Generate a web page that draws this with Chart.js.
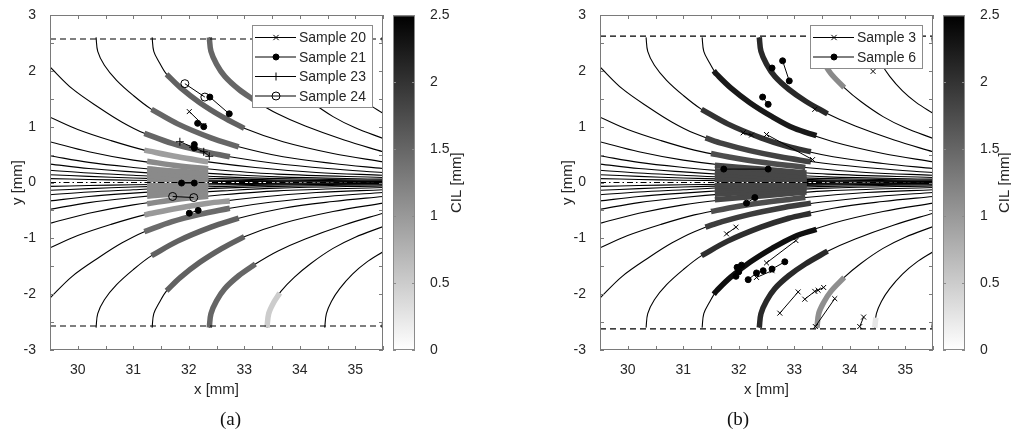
<!DOCTYPE html>
<html>
<head>
<meta charset="utf-8">
<script src="https://cdn.jsdelivr.net/npm/chart.js@4.4.0/dist/chart.umd.min.js"></script>
<style>
  body { margin: 0; background: #fff; width: 1011px; height: 435px; position: relative; overflow: hidden; }
  canvas { position: absolute; top: 0; }
  .cap { position: absolute; top: 408px; font-family: "Liberation Serif", "Times New Roman", serif; font-size: 19px; color: #111; }
</style>
</head>
<body>
<canvas id="panelA" width="390" height="435" style="left:0px"></canvas>
<canvas id="barA" width="80" height="435" style="left:390px"></canvas>
<canvas id="panelB" width="390" height="435" style="left:550px"></canvas>
<canvas id="barB" width="71" height="435" style="left:940px"></canvas>
<div class="cap" style="left:220px">(a)</div>
<div class="cap" style="left:727px">(b)</div>
<script>
// axes
var xLimits = [29.5, 35.5];
var yLimits = [-3, 3];
var xTickLabels = [30, 31, 32, 33, 34, 35];
var yTickLabels = [-3, -2, -1, 0, 1, 2, 3];
var cilLimits = [0, 2.5];

// die walls (y = +/- wall)
var wallA = 2.57;
var wallB = 2.62;

// flow lines, upper half [x, y] in mm
var linesUpper = [
  [[30.33, 2.60], [30.36, 2.35], [30.48, 2.10], [30.70, 1.83], [31.00, 1.56], [31.33, 1.31], [31.80, 1.05], [32.40, 0.80], [32.90, 0.64], [33.70, 0.46], [34.60, 0.34], [35.50, 0.25]],
  [[31.34, 2.60], [31.37, 2.35], [31.47, 2.15], [31.60, 1.94], [31.85, 1.70], [32.20, 1.43], [32.60, 1.18], [33.00, 0.97], [33.70, 0.73], [34.60, 0.52], [35.50, 0.37]],
  [[32.37, 2.60], [32.40, 2.35], [32.50, 2.12], [32.65, 1.90], [32.90, 1.67], [33.20, 1.46], [33.60, 1.23], [34.10, 1.01], [34.80, 0.76], [35.50, 0.55]],
  [[33.41, 2.60], [33.44, 2.35], [33.53, 2.15], [33.66, 1.95], [33.90, 1.70], [34.20, 1.45], [34.60, 1.18], [35.00, 0.98], [35.50, 0.79]],
  [[34.45, 2.60], [34.48, 2.35], [34.57, 2.13], [34.72, 1.90], [34.95, 1.64], [35.20, 1.43], [35.50, 1.24]],
  [[35.48, 2.60], [35.50, 2.42]],
  [[29.50, 2.07], [29.90, 1.68], [30.40, 1.33], [30.80, 1.08], [31.20, 0.88], [31.70, 0.70], [32.20, 0.57], [32.74, 0.46], [33.50, 0.35], [34.50, 0.25], [35.50, 0.18]],
  [[29.50, 1.17], [30.00, 0.95], [30.60, 0.75], [31.20, 0.58], [31.80, 0.46], [32.35, 0.37], [33.20, 0.27], [34.30, 0.18], [35.50, 0.13]],
  [[29.50, 0.73], [30.20, 0.55], [31.00, 0.40], [31.80, 0.30], [32.60, 0.22], [33.60, 0.15], [35.50, 0.09]],
  [[29.50, 0.48], [30.20, 0.36], [31.00, 0.27], [31.80, 0.20], [32.60, 0.15], [33.60, 0.10], [35.50, 0.06]],
  [[29.50, 0.33], [30.20, 0.25], [31.00, 0.19], [31.80, 0.14], [32.60, 0.10], [33.60, 0.07], [35.50, 0.04]],
  [[29.50, 0.22], [30.20, 0.17], [31.00, 0.13], [31.80, 0.09], [32.60, 0.07], [33.60, 0.045], [35.50, 0.025]],
  [[29.50, 0.14], [30.20, 0.11], [31.00, 0.08], [31.80, 0.06], [32.60, 0.04], [35.50, 0.015]],
  [[29.50, 0.07], [30.20, 0.055], [31.00, 0.04], [31.80, 0.03], [32.60, 0.02], [35.50, 0.007]]
];

// flow lines, lower half
var linesLower = [
  [[30.33, -2.60], [30.36, -2.35], [30.48, -2.10], [30.70, -1.83], [31.00, -1.56], [31.33, -1.31], [31.80, -1.05], [32.40, -0.80], [32.90, -0.64], [33.70, -0.46], [34.60, -0.34], [35.50, -0.25]],
  [[31.34, -2.60], [31.37, -2.35], [31.47, -2.15], [31.60, -1.94], [31.85, -1.70], [32.20, -1.43], [32.60, -1.18], [33.00, -0.97], [33.70, -0.73], [34.60, -0.52], [35.50, -0.37]],
  [[32.37, -2.60], [32.40, -2.35], [32.50, -2.12], [32.65, -1.90], [32.90, -1.67], [33.20, -1.46], [33.60, -1.23], [34.10, -1.01], [34.80, -0.76], [35.50, -0.55]],
  [[33.41, -2.60], [33.44, -2.35], [33.53, -2.15], [33.66, -1.95], [33.90, -1.70], [34.20, -1.45], [34.60, -1.18], [35.00, -0.98], [35.50, -0.79]],
  [[34.45, -2.60], [34.48, -2.35], [34.57, -2.13], [34.72, -1.90], [34.95, -1.64], [35.20, -1.43], [35.50, -1.24]],
  [[35.48, -2.60], [35.50, -2.42]],
  [[29.50, -2.07], [29.90, -1.68], [30.40, -1.33], [30.80, -1.08], [31.20, -0.88], [31.70, -0.70], [32.20, -0.57], [32.74, -0.46], [33.50, -0.35], [34.50, -0.25], [35.50, -0.18]],
  [[29.50, -1.17], [30.00, -0.95], [30.60, -0.75], [31.20, -0.58], [31.80, -0.46], [32.35, -0.37], [33.20, -0.27], [34.30, -0.18], [35.50, -0.13]],
  [[29.50, -0.73], [30.20, -0.55], [31.00, -0.40], [31.80, -0.30], [32.60, -0.22], [33.60, -0.15], [35.50, -0.09]],
  [[29.50, -0.48], [30.20, -0.36], [31.00, -0.27], [31.80, -0.20], [32.60, -0.15], [33.60, -0.10], [35.50, -0.06]],
  [[29.50, -0.33], [30.20, -0.25], [31.00, -0.19], [31.80, -0.14], [32.60, -0.10], [33.60, -0.07], [35.50, -0.04]],
  [[29.50, -0.22], [30.20, -0.17], [31.00, -0.13], [31.80, -0.09], [32.60, -0.07], [33.60, -0.045], [35.50, -0.025]],
  [[29.50, -0.14], [30.20, -0.11], [31.00, -0.08], [31.80, -0.06], [32.60, -0.04], [35.50, -0.015]],
  [[29.50, -0.07], [30.20, -0.055], [31.00, -0.04], [31.80, -0.03], [32.60, -0.02], [35.50, -0.007]]
];

// CIL tracks for (a): points along a flow line and CIL value [mm]
var tracksA = [
  { cil: 1.50, pts: [[32.37, 2.60], [32.40, 2.35], [32.50, 2.12], [32.65, 1.90], [32.90, 1.67], [33.20, 1.46]] },
  { cil: 1.55, pts: [[31.60, 1.94], [31.85, 1.70], [32.20, 1.43], [32.60, 1.18], [33.00, 0.97]] },
  { cil: 1.50, pts: [[31.33, 1.31], [31.80, 1.05], [32.40, 0.80], [32.90, 0.64]] },
  { cil: 1.50, pts: [[31.20, 0.88], [31.70, 0.70], [32.20, 0.57], [32.74, 0.46]] },
  { cil: 0.95, pts: [[31.20, 0.58], [31.80, 0.46], [32.35, 0.37]] },
  { cil: 1.15, pts: [[31.25, 0.38], [31.80, 0.30], [32.35, 0.245]] },
  { cil: 1.15, pts: [[31.25, 0.245], [31.80, 0.20], [32.35, 0.165]] },
  { cil: 1.15, pts: [[31.25, 0.175], [31.80, 0.14], [32.35, 0.11]] },
  { cil: 1.15, pts: [[31.25, 0.12], [31.80, 0.09], [32.35, 0.075]] },
  { cil: 1.15, pts: [[31.25, 0.075], [31.80, 0.06], [32.35, 0.045]] },
  { cil: 1.15, pts: [[31.25, 0.037], [31.80, 0.03], [32.35, 0.023]] },
  { cil: 1.15, pts: [[31.25, -0.037], [31.80, -0.03], [32.35, -0.023]] },
  { cil: 1.15, pts: [[31.25, -0.075], [31.80, -0.06], [32.35, -0.045]] },
  { cil: 1.15, pts: [[31.25, -0.12], [31.80, -0.09], [32.35, -0.075]] },
  { cil: 1.15, pts: [[31.25, -0.175], [31.80, -0.14], [32.35, -0.11]] },
  { cil: 1.15, pts: [[31.25, -0.245], [31.80, -0.20], [32.35, -0.165]] },
  { cil: 1.15, pts: [[31.25, -0.38], [31.80, -0.30], [32.35, -0.245]] },
  { cil: 1.00, pts: [[31.20, -0.58], [31.80, -0.46], [32.35, -0.37], [32.74, -0.33]] },
  { cil: 1.45, pts: [[31.20, -0.88], [31.70, -0.70], [32.20, -0.57], [32.74, -0.46]] },
  { cil: 1.55, pts: [[31.33, -1.31], [31.80, -1.05], [32.40, -0.80], [32.90, -0.64]] },
  { cil: 1.55, pts: [[31.60, -1.94], [31.85, -1.70], [32.20, -1.43], [32.60, -1.18], [33.00, -0.97]] },
  { cil: 1.50, pts: [[32.37, -2.60], [32.40, -2.35], [32.50, -2.12], [32.65, -1.90], [32.90, -1.67], [33.20, -1.46]] },
  { cil: 0.50, pts: [[33.41, -2.60], [33.44, -2.35], [33.53, -2.15], [33.64, -1.98]] }
];

// CIL tracks for (b)
var tracksB = [
  { cil: 2.10, pts: [[32.37, 2.60], [32.40, 2.35], [32.50, 2.12], [32.65, 1.90], [32.90, 1.67], [33.20, 1.46], [33.60, 1.23]] },
  { cil: 2.25, pts: [[31.55, 2.00], [31.60, 1.94], [31.85, 1.70], [32.20, 1.43], [32.60, 1.18], [33.00, 0.97], [33.40, 0.84]] },
  { cil: 2.00, pts: [[31.33, 1.31], [31.80, 1.05], [32.40, 0.80], [32.90, 0.64], [33.30, 0.55]] },
  { cil: 1.85, pts: [[31.40, 0.80], [31.70, 0.70], [32.20, 0.57], [32.74, 0.46], [33.30, 0.37]] },
  { cil: 1.75, pts: [[31.50, 0.52], [31.80, 0.46], [32.35, 0.37], [33.20, 0.27]] },
  { cil: 1.15, pts: [[33.53, 2.15], [33.66, 1.95], [33.90, 1.70]] },
  { cil: 1.80, pts: [[31.57, 0.31], [32.40, 0.24], [33.22, 0.17]] },
  { cil: 1.80, pts: [[31.57, 0.21], [32.40, 0.16], [33.22, 0.11]] },
  { cil: 1.80, pts: [[31.57, 0.15], [32.40, 0.11], [33.22, 0.075]] },
  { cil: 1.80, pts: [[31.57, 0.10], [32.40, 0.075], [33.22, 0.05]] },
  { cil: 1.80, pts: [[31.57, 0.06], [32.40, 0.045], [33.22, 0.03]] },
  { cil: 1.80, pts: [[31.57, 0.03], [32.40, 0.02], [33.22, 0.015]] },
  { cil: 1.80, pts: [[31.57, -0.03], [32.40, -0.02], [33.22, -0.015]] },
  { cil: 1.80, pts: [[31.57, -0.06], [32.40, -0.045], [33.22, -0.03]] },
  { cil: 1.80, pts: [[31.57, -0.10], [32.40, -0.075], [33.22, -0.05]] },
  { cil: 1.80, pts: [[31.57, -0.15], [32.40, -0.11], [33.22, -0.075]] },
  { cil: 1.80, pts: [[31.57, -0.21], [32.40, -0.16], [33.22, -0.11]] },
  { cil: 1.80, pts: [[31.57, -0.31], [32.40, -0.24], [33.22, -0.17]] },
  { cil: 1.75, pts: [[31.50, -0.52], [31.80, -0.46], [32.35, -0.37], [33.20, -0.27]] },
  { cil: 1.90, pts: [[31.40, -0.80], [31.70, -0.70], [32.20, -0.57], [32.74, -0.46], [33.30, -0.37]] },
  { cil: 2.05, pts: [[31.33, -1.31], [31.80, -1.05], [32.40, -0.80], [32.90, -0.64], [33.30, -0.55]] },
  { cil: 2.35, pts: [[31.55, -2.00], [31.60, -1.94], [31.85, -1.70], [32.20, -1.43], [32.60, -1.18], [33.00, -0.97], [33.40, -0.84]] },
  { cil: 2.10, pts: [[32.37, -2.60], [32.40, -2.35], [32.50, -2.12], [32.65, -1.90], [32.90, -1.67], [33.20, -1.46], [33.60, -1.23]] },
  { cil: 1.10, pts: [[33.41, -2.60], [33.44, -2.35], [33.53, -2.15], [33.66, -1.95], [33.90, -1.70]] },
  { cil: 0.25, pts: [[34.45, -2.60], [34.47, -2.42]] }
];

// measured positions, null = break between pairs
var sample20 = [[32.01, 1.27], [32.27, 1.02]];
var sample21 = [[32.38, 1.53], [32.73, 1.23], null, [32.16, 1.06], [32.27, 1.00], null, [32.10, 0.68], [32.10, 0.62], null,
                [31.87, -0.01], [32.10, -0.01], null, [32.01, -0.55], [32.17, -0.50]];
var sample23 = [[31.84, 0.73], [32.08, 0.63], [32.27, 0.55], [32.37, 0.47]];
var sample24 = [[31.93, 1.77], [32.29, 1.53], null, [31.71, -0.25], [32.09, -0.27]];

var sample3 = [[34.42, 1.99], null, [33.37, 1.31], null, [32.08, 0.89], [32.23, 0.85], null, [32.50, 0.86], [33.33, 0.41], null,
               [31.78, -0.92], [31.95, -0.80], null, [32.50, -1.44], [33.03, -1.04], null, [32.32, -1.70], [32.60, -1.58], null,
               [32.74, -2.34], [33.07, -1.96], null, [33.19, -2.09], [33.37, -1.95], [33.43, -1.93], [33.53, -1.88], null,
               [33.38, -2.58], [33.73, -2.08], null, [34.18, -2.58], [34.25, -2.41]];
var sample6 = [[32.60, 2.05], null, [32.79, 2.18], [32.91, 1.82], null, [32.43, 1.53], [32.53, 1.40], null,
               [31.73, 0.24], [32.53, 0.24], null, [32.14, -0.37], [32.29, -0.27], null,
               [31.97, -1.52], [32.05, -1.48], null, [31.95, -1.68], [32.00, -1.60], null,
               [32.17, -1.74], [32.32, -1.62], [32.44, -1.58], null, [32.60, -1.55], [32.83, -1.42]];

Chart.defaults.font.family = '"Liberation Sans", Arial, sans-serif';
Chart.defaults.color = '#262626';

function pts(list) {
  return list.map(function (p) { return p ? { x: p[0], y: p[1] } : { x: null, y: null }; });
}

function gray(v) {
  var g = Math.round(255 * (1 - v / cilLimits[1]));
  return 'rgb(' + g + ',' + g + ',' + g + ')';
}

function drawMarker(ctx, style, x, y, r, filled) {
  ctx.beginPath();
  if (style === 'circle') {
    ctx.arc(x, y, r, 0, Math.PI * 2);
    if (filled) { ctx.fillStyle = '#000'; ctx.fill(); }
    ctx.stroke();
  } else if (style === 'crossRot') {
    ctx.moveTo(x - r * 0.75, y - r * 0.75); ctx.lineTo(x + r * 0.75, y + r * 0.75);
    ctx.moveTo(x - r * 0.75, y + r * 0.75); ctx.lineTo(x + r * 0.75, y - r * 0.75);
    ctx.stroke();
  } else {
    ctx.moveTo(x - r, y); ctx.lineTo(x + r, y);
    ctx.moveTo(x, y - r); ctx.lineTo(x, y + r);
    ctx.stroke();
  }
}

// box, inward ticks and the sample legend
var axesFrame = {
  id: 'axesFrame',
  afterDraw: function (chart, args, opts) {
    var ctx = chart.ctx, a = chart.chartArea;
    ctx.save();
    ctx.strokeStyle = '#7a7a7a';
    ctx.lineWidth = 1;
    ctx.strokeRect(a.left + 0.5, a.top + 0.5, a.right - a.left - 1, a.bottom - a.top - 1);
    ctx.beginPath();
    chart.scales.x.ticks.forEach(function (t) {
      var px = Math.round(chart.scales.x.getPixelForValue(t.value)) + 0.5;
      ctx.moveTo(px, a.bottom); ctx.lineTo(px, a.bottom - 4);
      ctx.moveTo(px, a.top); ctx.lineTo(px, a.top + 4);
    });
    chart.scales.y.ticks.forEach(function (t) {
      var py = Math.round(chart.scales.y.getPixelForValue(t.value)) + 0.5;
      ctx.moveTo(a.left, py); ctx.lineTo(a.left + 4, py);
      ctx.moveTo(a.right, py); ctx.lineTo(a.right - 4, py);
    });
    ctx.stroke();

    var items = chart.data.datasets.filter(function (d) { return d.label; });
    var rowH = 19.5;
    var x0 = a.right - opts.right - opts.width;
    var y0 = a.top + opts.top;
    var h = items.length * rowH + 4;
    ctx.fillStyle = '#fff';
    ctx.fillRect(x0, y0, opts.width, h);
    ctx.strokeStyle = '#8c8c8c';
    ctx.strokeRect(x0 + 0.5, y0 + 0.5, opts.width, h);
    ctx.font = '14px "Liberation Sans", Arial, sans-serif';
    ctx.textBaseline = 'middle';
    items.forEach(function (d, i) {
      var y = y0 + 12.5 + i * rowH;
      ctx.strokeStyle = '#000';
      ctx.lineWidth = 1;
      ctx.beginPath();
      ctx.moveTo(x0 + 3, y); ctx.lineTo(x0 + 44, y);
      ctx.stroke();
      drawMarker(ctx, d.pointStyle, x0 + 24, y, d.pointRadius, d.pointBackgroundColor === '#000');
      ctx.fillStyle = '#262626';
      ctx.fillText(d.label, x0 + 47, y + 1);
    });
    ctx.restore();
  }
};

function makePanel(id, wall, tracks, samples, legendBox) {
  var datasets = [];
  samples.forEach(function (s) {
    datasets.push({
      label: s.name, data: pts(s.data), showLine: true, spanGaps: false,
      borderColor: '#000', borderWidth: 1, tension: 0,
      pointStyle: s.style, pointRadius: s.r, pointBorderWidth: 1,
      pointBorderColor: '#000', pointBackgroundColor: s.filled ? '#000' : 'rgba(0,0,0,0)',
      order: 0
    });
  });
  // centre line
  datasets.push({ data: pts([[xLimits[0], 0], [xLimits[1], 0]]), showLine: true, borderColor: '#000', borderWidth: 1, borderDash: [6, 3, 1.5, 3], order: 1 });
  datasets.push({ data: pts([[31.25, 0], [33.45, 0]]), showLine: true, borderColor: '#fff', borderWidth: 1, borderDash: [1.5, 3], order: 1 });
  // walls
  [wall, -wall].forEach(function (w) {
    datasets.push({ data: pts([[xLimits[0], w], [xLimits[1], w]]), showLine: true, borderColor: '#000', borderWidth: 1.2, borderDash: [6, 4], order: 2 });
  });
  tracks.forEach(function (t) {
    datasets.push({ data: pts(t.pts), showLine: true, borderColor: gray(t.cil), borderWidth: 5.5, tension: 0.35, borderCapStyle: 'butt', order: 3 });
  });
  linesUpper.concat(linesLower).forEach(function (l) {
    datasets.push({ data: pts(l), showLine: true, borderColor: '#000', borderWidth: 1.1, tension: 0.35, order: 4 });
  });

  return new Chart(document.getElementById(id), {
    type: 'scatter',
    data: { datasets: datasets },
    options: {
      responsive: false, animation: false, events: [],
      layout: { padding: { left: 0, right: 7, top: 15, bottom: 0 } },
      elements: { point: { radius: 0 } },
      plugins: { legend: { display: false }, tooltip: { enabled: false }, axesFrame: legendBox },
      scales: {
        x: {
          type: 'linear', min: xLimits[0], max: xLimits[1],
          grid: { display: false }, border: { display: false },
          ticks: {
            stepSize: 0.5, autoSkip: false, maxRotation: 0, padding: 4, font: { size: 14 },
            callback: function (v) { return xTickLabels.indexOf(v) >= 0 ? v : ''; }
          },
          title: { display: true, text: 'x [mm]', font: { size: 15 }, padding: { top: 0, bottom: 36 } },
          afterFit: function (s) { s.height = 85; }
        },
        y: {
          type: 'linear', min: yLimits[0], max: yLimits[1],
          grid: { display: false }, border: { display: false },
          ticks: {
            stepSize: 0.5, autoSkip: false, padding: 6, font: { size: 14 },
            callback: function (v) { return yTickLabels.indexOf(v) >= 0 ? v : ''; }
          },
          title: { display: true, text: 'y [mm]', font: { size: 15 }, padding: { top: 9, bottom: 0 } },
          afterFit: function (s) { s.width = 50; }
        }
      }
    },
    plugins: [axesFrame]
  });
}

// colour bar: one bar spanning the CIL range, filled with the grey map
var barFrame = {
  id: 'barFrame',
  afterDraw: function (chart, args, opts) {
    var ctx = chart.ctx, a = chart.chartArea, sc = chart.scales.y;
    ctx.save();
    ctx.strokeStyle = '#8a8a8a';
    ctx.lineWidth = 1;
    ctx.strokeRect(a.left + 0.5, a.top + 0.5, a.right - a.left - 1, a.bottom - a.top - 1);
    ctx.beginPath();
    sc.ticks.forEach(function (t) {
      var py = Math.round(sc.getPixelForValue(t.value)) + 0.5;
      ctx.moveTo(a.left, py); ctx.lineTo(a.left + 3, py);
      ctx.moveTo(a.right, py); ctx.lineTo(a.right - 3, py);
    });
    ctx.stroke();
    ctx.translate(opts.titleX, (a.top + a.bottom) / 2);
    ctx.rotate(-Math.PI / 2);
    ctx.fillStyle = '#262626';
    ctx.font = '15px "Liberation Sans", Arial, sans-serif';
    ctx.textAlign = 'center';
    ctx.textBaseline = 'middle';
    ctx.fillText('CIL [mm]', 0, 0);
    ctx.restore();
  }
};

function makeBar(id, axisWidth, titleX) {
  return new Chart(document.getElementById(id), {
    type: 'bar',
    data: {
      labels: ['CIL'],
      datasets: [{
        data: [cilLimits[1]], borderWidth: 0, barPercentage: 1, categoryPercentage: 1,
        backgroundColor: function (c) {
          var a = c.chart.chartArea;
          if (!a) return '#888';
          var g = c.chart.ctx.createLinearGradient(0, a.bottom, 0, a.top);
          g.addColorStop(0, gray(cilLimits[0]));
          g.addColorStop(1, gray(cilLimits[1]));
          return g;
        }
      }]
    },
    options: {
      responsive: false, animation: false, events: [],
      layout: { padding: { left: 3, right: 0, top: 15, bottom: 85 } },
      plugins: { legend: { display: false }, tooltip: { enabled: false }, barFrame: { titleX: titleX } },
      scales: {
        x: { display: false },
        y: {
          position: 'right', min: cilLimits[0], max: cilLimits[1],
          grid: { display: false }, border: { display: false },
          ticks: { stepSize: 0.5, padding: 7, font: { size: 14 }, callback: function (v) { return String(v); } },
          afterFit: function (s) { s.width = axisWidth; }
        }
      }
    },
    plugins: [barFrame]
  });
}

makePanel('panelA', wallA, tracksA, [
  { name: 'Sample 20', data: sample20, style: 'crossRot', r: 3.5, filled: false },
  { name: 'Sample 21', data: sample21, style: 'circle', r: 3, filled: true },
  { name: 'Sample 23', data: sample23, style: 'cross', r: 4, filled: false },
  { name: 'Sample 24', data: sample24, style: 'circle', r: 4, filled: false }
], { right: 11, top: 10, width: 120 });

makePanel('panelB', wallB, tracksB, [
  { name: 'Sample 3', data: sample3, style: 'crossRot', r: 3.5, filled: false },
  { name: 'Sample 6', data: sample6, style: 'circle', r: 3, filled: true }
], { right: 11, top: 10, width: 112 });

makeBar('barA', 55, 67);
makeBar('barB', 46, 65);
</script>
</body>
</html>
